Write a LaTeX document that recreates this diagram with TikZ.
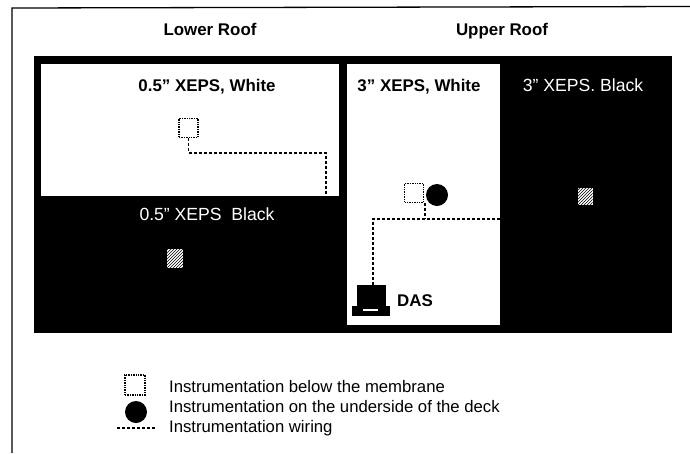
\documentclass[tikz,border=0pt]{standalone}
\usepackage{fontspec}
\setmainfont{Liberation Sans}
\usetikzlibrary{patterns}
\tikzset{
    sensorbox/.style={draw, densely dotted, line width=1.4pt, fill=white, minimum size=19pt, inner sep=0pt},
    deckdot/.style={circle, fill=black, minimum size=22pt, inner sep=0pt},
    wiring/.style={densely dashed, line width=1.7pt},
    speck/.style={inner sep=0pt, preaction={fill=white}, pattern=north east lines, pattern color=black},
    rooflabel/.style={anchor=base, inner sep=0pt, font=\bfseries\fontsize{16.9}{19}\selectfont},
    blacklabel/.style={anchor=base, inner sep=0pt, text=white, font=\fontsize{17.6}{20}\selectfont},
    keytext/.style={anchor=base west, inner sep=0pt, font=\fontsize{16.7}{19}\selectfont}
}
\begin{document}
\begin{tikzpicture}[x=1pt, y=-1pt]
    \useasboundingbox (0,0) rectangle (690,453);

    % Page frame
    \draw[line width=1.3pt] (12,453) -- (12,8) -- (690,6.5);

    % Roof sections
    \fill[black] (34,56) rectangle (672,333);
    \fill[white] (41,64) rectangle (339,196);
    \fill[white] (347,64) rectangle (500,325);

    % Headings
    \node[rooflabel] (lower) at (210,35) {Lower Roof};
    \node[rooflabel] (upper) at (502,35) {Upper Roof};
    \node[rooflabel] (whitethin) at (207,91) {0.5" XEPS, White};
    \node[blacklabel] (blackthin) at (207,220) {0.5" XEPS\ \ Black};
    \node[rooflabel] (whitethick) at (419,91) {3" XEPS, White};
    \node[blacklabel] (blackthick) at (583,91) {3" XEPS. Black};

    % Sensors
    \node[sensorbox] (sensorA) at (188.5,128) {};
    \node[sensorbox] (sensorB) at (414,193) {};
    \node[deckdot] (deckB) at (437,195) {};
    \node[speck, minimum width=16pt, minimum height=19pt] (specA) at (175,258) {};
    \node[speck, minimum width=15pt, minimum height=17pt] (specB) at (585,196) {};

    % DAS laptop
    \node[fill=black, minimum width=29pt, minimum height=22pt, inner sep=0pt] (screen) at (371,296) {};
    \node[fill=black, minimum width=38pt, minimum height=10pt, inner sep=0pt] (base) at (371,311) {};
    \node[fill=white, minimum width=15pt, minimum height=2pt, inner sep=0pt] (slot) at (370,310) {};
    \node[rooflabel, anchor=base west] (das) at (397,306) {DAS};

    % Wires
    \coordinate (edgeA) at (326,196);
    \coordinate (edgeB) at (500,219);
    \coordinate (tapB) at (425,219);
    \coordinate (bendB) at (373,219);
    \draw[wiring] (sensorA.south) -- (188.5,153) -| (edgeA);
    \draw[wiring] (edgeB) -- (bendB) -- (bendB |- screen.north);
    \draw[wiring] (sensorB.south -| tapB) -- (tapB);

    % Key
    \node[sensorbox, minimum size=20pt] (keybox) at (135,385) {};
    \node[deckdot] (keydot) at (136,412) {};
    \coordinate (keywireL) at (117,428);
    \coordinate (keywireR) at (155,428);
    \draw[densely dashed, line width=1.2pt] (keywireL) -- (keywireR);
    \node[keytext] (keyA) at (169,392) {Instrumentation below the membrane};
    \node[keytext] (keyB) at (169,412) {Instrumentation on the underside of the deck};
    \node[keytext] (keyC) at (169,432) {Instrumentation wiring};
\end{tikzpicture}
\end{document}
